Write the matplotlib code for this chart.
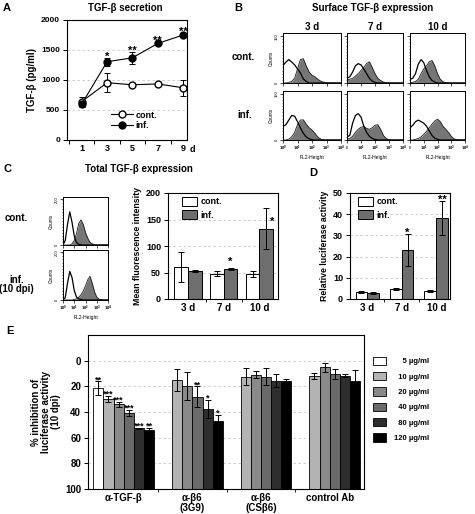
import numpy as np
import matplotlib
matplotlib.use("Agg")
import matplotlib.pyplot as plt
from matplotlib.patches import Patch
from matplotlib.lines import Line2D
from matplotlib.ticker import FixedLocator, NullFormatter

plt.rcParams.update({
    "font.family": ["Liberation Sans", "DejaVu Sans"],
    "font.weight": "bold",
    "axes.labelweight": "bold",
    "axes.linewidth": 0.8,
    "mathtext.fontset": "custom",
    "mathtext.rm": "Liberation Sans",
    "mathtext.it": "Liberation Sans:italic",
    "mathtext.bf": "Liberation Sans:bold",
})

# ---------------- data ----------------
# Panel A
a_days = [1, 3, 5, 7, 9]
a_day_labels = ["1", "3", "5", "7", "9"]
a_cont = [640, 955, 920, 935, 870]
a_cont_err = [70, 160, 25, 25, 130]
a_inf = [600, 1305, 1370, 1610, 1750]
a_inf_err = [50, 65, 100, 25, 30]
a_stars = ["", "*", "**", "**", "**"]

# Histogram bins (log10 of FL2-Height)
hist_log_bins = [0.0, 0.2, 0.4, 0.6, 0.8, 1.0, 1.2, 1.4, 1.6, 1.8, 2.0,
                 2.2, 2.4, 2.6, 2.8, 3.0, 3.2, 3.4, 3.6, 3.8, 4.0]
# Panel B histograms (counts)
b_cols = ["3 d", "7 d", "10 d"]
b_rows = ["cont.", "inf."]
b3_cont_open = [56, 67, 75, 67, 58, 45, 32, 13, 5, 0, 0, 0, 0, 0, 0, 0, 0, 0, 0, 0, 0]
b3_cont_fill = [0, 0, 2, 5, 15, 45, 75, 78, 55, 35, 25, 20, 12, 6, 3, 1, 0, 0, 0, 0, 0]
b7_cont_open = [15, 20, 35, 55, 62, 58, 45, 30, 15, 6, 2, 0, 0, 0, 0, 0, 0, 0, 0, 0, 0]
b7_cont_fill = [10, 12, 15, 22, 30, 40, 50, 62, 68, 50, 30, 15, 8, 3, 1, 0, 0, 0, 0, 0, 0]
b10_cont_open = [12, 15, 30, 60, 75, 65, 40, 20, 8, 3, 0, 0, 0, 0, 0, 0, 0, 0, 0, 0, 0]
b10_cont_fill = [0, 2, 5, 12, 30, 45, 55, 68, 72, 55, 30, 12, 4, 1, 0, 0, 0, 0, 0, 0, 0]
b3_inf_open = [45, 50, 65, 80, 78, 60, 40, 22, 10, 4, 1, 0, 0, 0, 0, 0, 0, 0, 0, 0, 0]
b3_inf_fill = [0, 0, 3, 10, 25, 50, 65, 66, 52, 40, 33, 22, 10, 3, 0, 0, 0, 0, 0, 0, 0]
b7_inf_open = [10, 15, 55, 80, 86, 75, 45, 25, 12, 5, 2, 0, 0, 0, 0, 0, 0, 0, 0, 0, 0]
b7_inf_fill = [3, 5, 12, 25, 35, 42, 44, 38, 35, 40, 48, 50, 35, 15, 5, 1, 0, 0, 0, 0, 0]
b10_inf_open = [40, 48, 60, 65, 60, 55, 45, 30, 15, 6, 2, 0, 0, 0, 0, 0, 0, 0, 0, 0, 0]
b10_inf_fill = [0, 0, 2, 5, 10, 18, 28, 40, 52, 62, 68, 60, 45, 35, 25, 12, 4, 1, 0, 0, 0]

# Panel C histograms
c_cont_open = [0, 20, 90, 145, 100, 40, 10, 3, 1, 0, 0, 0, 0, 0, 0, 0, 0, 0, 0, 0, 0]
c_cont_fill = [0, 0, 0, 0, 5, 20, 50, 95, 110, 90, 55, 30, 12, 5, 2, 0, 0, 0, 0, 0, 0]
c_inf_open = [0, 10, 70, 120, 95, 40, 12, 5, 2, 0, 0, 0, 0, 0, 0, 0, 0, 0, 0, 0, 0]
c_inf_fill = [0, 0, 0, 0, 0, 2, 5, 12, 22, 38, 60, 85, 100, 70, 35, 12, 4, 1, 0, 0, 0]

# Panel C bars
cd_days = ["3 d", "7 d", "10 d"]
c_cont = [60, 48, 47]
c_cont_err = [28, 5, 5]
c_inf = [53, 57, 133]
c_inf_err = [2, 1.5, 38]

# Panel D bars
d_cont = [3.3, 4.7, 3.9]
d_cont_err = [0.4, 0.4, 0.4]
d_inf = [3.0, 23.2, 38.2]
d_inf_err = [0.5, 7.4, 7.9]
d_stars = ["", "*", "**"]

# Panel E
e_groups = ["α-TGF-β", "α-β6\n(3G9)", "α-β6\n(CSβ6)", "control Ab"]
e_doses = ["5 µg/ml", "10 µg/ml", "20 µg/ml", "40 µg/ml", "80 µg/ml", "120 µg/ml"]
e_vals = [
    [21.6, np.nan, np.nan, np.nan],
    [30, 15, 12.5, 12],
    [34, 20, 11, 5.2],
    [41, 28, 12.5, 10.4],
    [52.7, 37.7, 15.6, 11.7],
    [54, 47, 16, 15.6],
]
e_errs = [
    [5.5, 0, 0, 0],
    [2.5, 8.5, 6.5, 2],
    [2, 11, 2.6, 3.5],
    [2.5, 8, 6.5, 4],
    [0.5, 7, 5, 1],
    [1.5, 5, 2, 8.5],
]
e_stars = [
    ["**", "", "", ""],
    ["***", "", "", ""],
    ["***", "", "", ""],
    ["***", "**", "", ""],
    ["***", "*", "", ""],
    ["**", "*", "", ""],
]
e_colors = ["#ffffff", "#b3b3b3", "#8a8a8a", "#6a6a6a", "#2e2e2e", "#000000"]

INF_GRAY = "#6e6e6e"
GRID_C = "#c8c8c8"

# ---------------- figure ----------------
W, H = 475, 514
fig = plt.figure(figsize=(W / 100, H / 100), dpi=100)


def ax_px(l, t, r, b):
    return fig.add_axes([l / W, 1 - b / H, (r - l) / W, (b - t) / H])


def ftext(x, y, s, **kw):
    kw.setdefault("ha", "center")
    kw.setdefault("va", "center")
    fig.text(x / W, 1 - y / H, s, **kw)


def star(ax, x, y, s, dy=3.5, fs=7.5):
    if s:
        ax.annotate(s, (x, y), xytext=(0, dy - 0.32 * fs), textcoords="offset points",
                    ha="center", va="center", fontsize=fs, fontweight="bold")


# Panel letters and titles
ftext(7, 8, "A", fontsize=8)
ftext(125, 8, "TGF-β secretion", fontsize=7)
ftext(238, 8, "B", fontsize=8)
ftext(373, 8, "Surface TGF-β expression", fontsize=7)
ftext(8, 169, "C", fontsize=8)
ftext(139, 169, "Total TGF-β expression", fontsize=7)
ftext(313, 173, "D", fontsize=8)
ftext(10, 331, "E", fontsize=8)

# ---------- Panel A ----------
axA = ax_px(67, 20, 187, 140)
axA.errorbar(a_days, a_cont, yerr=a_cont_err, fmt="-o", color="black", mfc="white",
             mec="black", ms=5, lw=0.8, elinewidth=0.7, capsize=2.5, capthick=0.7, zorder=3)
axA.errorbar(a_days, a_inf, yerr=a_inf_err, fmt="-o", color="black", mfc="black",
             mec="black", ms=5, lw=0.8, elinewidth=0.7, capsize=2.5, capthick=0.7, zorder=3)
for x, v, e, s in zip(a_days, a_inf, a_inf_err, a_stars):
    star(axA, x, v + e, s, dy=3.6, fs=8)
axA.set_ylim(0, 2000)
axA.set_xlim(-0.16, 9.3)
axA.set_yticks([0, 500, 1000, 1500, 2000])
axA.set_xticks(a_days)
axA.set_xticklabels(a_day_labels)
axA.xaxis.set_minor_locator(FixedLocator([0, 2, 4, 6, 8]))
axA.tick_params(axis="x", which="major", length=0, labelsize=6.5, pad=3)
axA.tick_params(axis="x", which="minor", length=3, direction="out", width=0.7)
axA.tick_params(axis="y", length=3, width=0.7, labelsize=6, pad=2)
axA.yaxis.grid(True, linestyle=(0, (3, 3)), color=GRID_C, lw=0.6)
axA.set_axisbelow(True)
axA.set_ylabel("TGF-β (pg/ml)", fontsize=7, labelpad=3)
axA.text(1.02, -0.045, "d", transform=axA.transAxes, ha="left", va="top", fontsize=6.5)
hA = [Line2D([], [], color="black", lw=0.8, marker="o", mfc="white", mec="black", ms=5),
      Line2D([], [], color="black", lw=0.8, marker="o", mfc="black", mec="black", ms=5)]
axA.legend(hA, ["cont.", "inf."], loc="upper left", bbox_to_anchor=(0.37, 0.245),
           frameon=False, fontsize=6.5, handlelength=2.4, handletextpad=0.3,
           labelspacing=0.15, borderpad=0, borderaxespad=0)

# ---------- histogram helper ----------
hx = 10 ** np.array(hist_log_bins)


def hist_panel(ax, open_c, fill_c, ymax, ytick_top, show_x, show_y, first_full=True):
    ax.fill_between(hx, fill_c, color="#767676", lw=0, zorder=1)
    ax.plot(hx, fill_c, color="#1a1a1a", lw=0.6, zorder=2)
    ax.plot(hx, open_c, color="black", lw=0.9, zorder=3)
    ax.set_xscale("log")
    ax.set_xlim(1, 1e4)
    ax.set_ylim(0, ymax)
    ax.set_yticks([0, ytick_top])
    ax.yaxis.set_minor_locator(FixedLocator(np.arange(0, ymax, ymax / 16)))
    ax.set_xticks([1, 10, 100, 1000, 10000])
    ax.tick_params(which="major", length=2, width=0.5, labelsize=3.0, pad=1)
    ax.tick_params(which="minor", length=1, width=0.4)
    for sp in ax.spines.values():
        sp.set_linewidth(0.7)
    if show_x:
        first = "$10^0$" if first_full else "$^0$"
        ax.set_xticklabels([first, "$10^1$", "$10^2$", "$10^3$", "$10^4$"],
                           fontweight="normal")
        ax.set_xlabel("FL2-Height", fontsize=3.6, fontweight="normal", labelpad=1)
    else:
        ax.set_xticklabels([])
    ax.xaxis.set_minor_formatter(NullFormatter())
    if show_y:
        ax.set_yticklabels(["0", str(ytick_top)], rotation=90, va="center",
                           fontweight="normal")
        ax.set_ylabel("Counts", fontsize=3.4, fontweight="normal", labelpad=1)
    else:
        ax.set_yticklabels([])


# ---------- Panel B ----------
b_xs = [(283, 341), (347, 403), (410, 465)]
b_ys = [(33, 83), (91, 140)]
b_data = [[(b3_cont_open, b3_cont_fill), (b7_cont_open, b7_cont_fill), (b10_cont_open, b10_cont_fill)],
          [(b3_inf_open, b3_inf_fill), (b7_inf_open, b7_inf_fill), (b10_inf_open, b10_inf_fill)]]
for r, (t, b) in enumerate(b_ys):
    for c, (l, rr) in enumerate(b_xs):
        ax = ax_px(l, t, rr, b)
        o, f = b_data[r][c]
        hist_panel(ax, o, f, 160, 150, show_x=(r == 1), show_y=(c == 0),
                   first_full=(c == 0))
for c, (l, rr) in enumerate(b_xs):
    ftext((l + rr) / 2, 27, b_cols[c], fontsize=7)
ftext(243, 57, b_rows[0], fontsize=7)
ftext(245, 115, b_rows[1], fontsize=7)

# ---------- Panel C histograms ----------
axc1 = ax_px(63, 197, 108, 245)
hist_panel(axc1, c_cont_open, c_cont_fill, 210, 200, show_x=False, show_y=True)
axc2 = ax_px(63, 250, 108, 300)
hist_panel(axc2, c_inf_open, c_inf_fill, 210, 200, show_x=True, show_y=True)
ftext(16, 218, "cont.", fontsize=7)
ftext(17, 280, "inf.", fontsize=7)
ftext(16, 289, "(10 dpi)", fontsize=7)


# ---------- bar helper ----------
def bar_panel(ax, cont, cont_err, inf, inf_err, w):
    x = np.arange(len(cont))
    ek = dict(ecolor="black", elinewidth=0.7, capsize=2.5, capthick=0.7)
    ax.bar(x - w / 2, cont, w, yerr=cont_err, color="white", edgecolor="black",
           lw=0.7, error_kw=ek, zorder=2, label="cont.")
    ax.bar(x + w / 2, inf, w, yerr=inf_err, color=INF_GRAY, edgecolor="black",
           lw=0.7, error_kw=ek, zorder=2, label="inf.")
    ax.set_xticks(x)
    ax.set_xticklabels(cd_days)
    ax.xaxis.set_minor_locator(FixedLocator([0.5, 1.5]))
    ax.tick_params(axis="x", which="major", length=0, labelsize=7, pad=3)
    ax.tick_params(axis="x", which="minor", length=2.5, width=0.6)
    ax.tick_params(axis="y", length=3, width=0.7, labelsize=6.5, pad=2)
    ax.yaxis.grid(True, linestyle=(0, (3, 3)), color=GRID_C, lw=0.6)
    ax.set_axisbelow(True)
    return x


# ---------- Panel C bars ----------
axC = ax_px(168, 193, 278, 299)
xc = bar_panel(axC, c_cont, c_cont_err, c_inf, c_inf_err, 0.38)
axC.set_xlim(-0.56, 2.52)
axC.set_ylim(0, 200)
axC.set_yticks([0, 50, 100, 150, 200])
axC.set_ylabel("Mean fluorescence intensity", fontsize=6.3, labelpad=3)
star(axC, xc[1] + 0.19, c_inf[1] + c_inf_err[1], "*", dy=7, fs=8)
axC.annotate("*", (xc[2] + 0.36, 152), xytext=(0, -0.32 * 8), textcoords="offset points",
             ha="center", va="center", fontsize=8, fontweight="bold")
axC.legend(loc="upper left", bbox_to_anchor=(0.127, 0.965), frameon=False, fontsize=6.5,
           handlelength=1.7, handleheight=1.15, handletextpad=0.35, labelspacing=0.45,
           borderpad=0, borderaxespad=0)

# ---------- Panel D ----------
axD = ax_px(350, 193, 450, 299)
xd = bar_panel(axD, d_cont, d_cont_err, d_inf, d_inf_err, 0.34)
axD.set_xlim(-0.5, 2.4)
axD.set_ylim(0, 50)
axD.set_yticks([0, 10, 20, 30, 40, 50])
axD.set_ylabel("Relative luciferase activity", fontsize=6.3, labelpad=3)
for x, v, e, s in zip(xd, d_inf, d_inf_err, d_stars):
    star(axD, x + 0.17, v + e, s, dy=3.4, fs=8)
axD.legend(loc="upper left", bbox_to_anchor=(0.08, 0.965), frameon=False, fontsize=6.5,
           handlelength=1.7, handleheight=1.15, handletextpad=0.35, labelspacing=0.45,
           borderpad=0, borderaxespad=0)

# ---------- Panel E ----------
axE = ax_px(88, 335, 364, 489)
ew = 0.148
xg = np.arange(len(e_groups))
ek = dict(ecolor="black", elinewidth=0.7, capsize=2.2, capthick=0.7)
handles = []
for j, (dose, col) in enumerate(zip(e_doses, e_colors)):
    vals = np.array(e_vals[j], dtype=float)
    errs = np.array(e_errs[j], dtype=float)
    xs = xg + (j - 2.5) * ew
    m = ~np.isnan(vals)
    axE.bar(xs[m], vals[m] - 100, ew, bottom=100, yerr=errs[m], color=col,
            edgecolor="black", lw=0.6, error_kw=ek, zorder=2)
    for x, v, e, s in zip(xs, vals, errs, e_stars[j]):
        if s and not np.isnan(v):
            star(axE, x, v - e, s, dy=3.3, fs=6.5)
    handles.append(Patch(facecolor=col, edgecolor="black", lw=0.6))
axE.set_ylim(100, -20)
axE.set_xlim(-0.52, 3.5)
axE.set_yticks([0, 20, 40, 60, 80, 100])
axE.set_xticks(xg)
axE.set_xticklabels(e_groups, linespacing=0.95)
axE.xaxis.set_minor_locator(FixedLocator([0.5, 1.5, 2.5]))
axE.tick_params(axis="x", which="major", length=0, labelsize=7, pad=3)
axE.tick_params(axis="x", which="minor", length=2.5, width=0.6)
axE.tick_params(axis="y", length=3, width=0.7, labelsize=7, pad=2)
axE.yaxis.grid(True, linestyle=(0, (3, 3)), color=GRID_C, lw=0.6)
axE.set_axisbelow(True)
axE.set_ylabel("% inhibition of\nluciferase activity\n(10 dpi)", fontsize=7,
               labelpad=3, linespacing=1.0)
pad_labels = ["    5 µg/ml", "  10 µg/ml", "  20 µg/ml", "  40 µg/ml", "  80 µg/ml", "120 µg/ml"]
axE.legend(handles, pad_labels, loc="upper left", bbox_to_anchor=(1.033, 0.86),
           frameon=False, fontsize=5.5, handlelength=1.75, handleheight=1.35,
           handletextpad=1.0, labelspacing=0.85, borderpad=0, borderaxespad=0)

fig.savefig("out.png", dpi=100)
